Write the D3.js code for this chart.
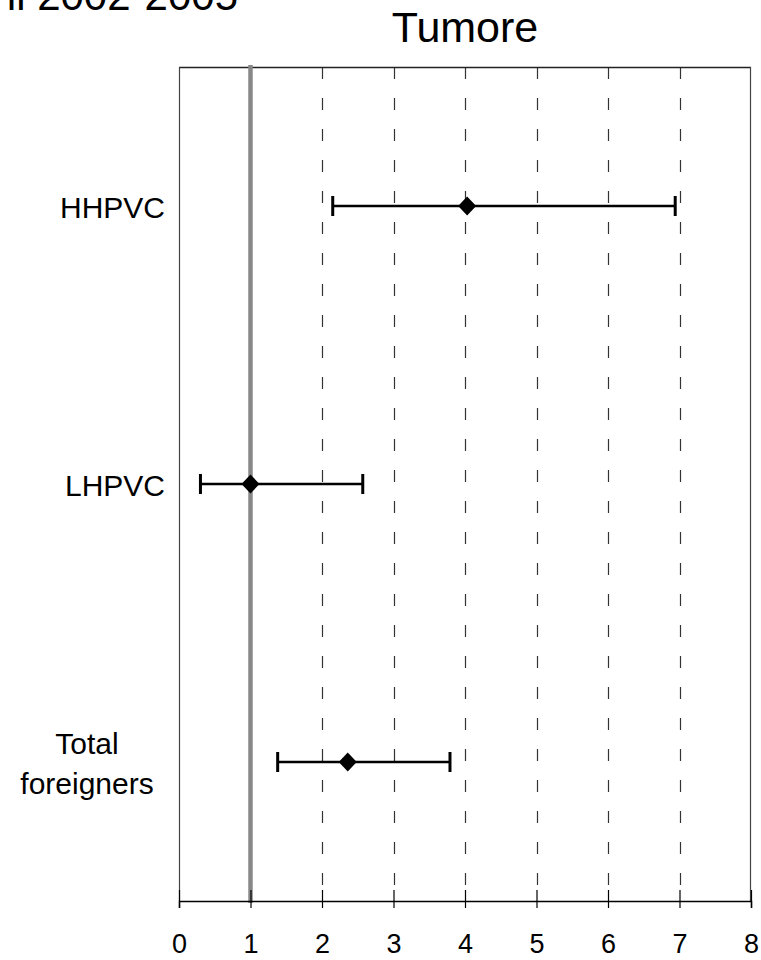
<!DOCTYPE html>
<html>
<head>
<meta charset="utf-8">
<script src="https://cdn.jsdelivr.net/npm/d3@7"></script>
<style>
  html, body { margin: 0; padding: 0; background: #fff; overflow: hidden; }
  svg { display: block; font-family: "Liberation Sans", Arial, sans-serif; }
</style>
</head>
<body>
<svg id="chart" width="761" height="960"></svg>
<script>
// ---- data ----
const categories = ["HHPVC", "LHPVC", "Total foreigners"];
const categoryLines = [["HHPVC"], ["LHPVC"], ["Total", "foreigners"]];
const estimates = [4.03, 1.0, 2.36];
const lowerCI = [2.15, 0.30, 1.38];
const upperCI = [6.94, 2.57, 3.79];
const xTicks = [0, 1, 2, 3, 4, 5, 6, 7, 8];
const referenceValue = 1;
const titleText = "Tumore";
const headerText = "Anni 2002-2005";

// ---- layout ----
const plotLeft = 179, plotRight = 751, plotTop = 67, plotBottom = 901;
const svg = d3.select("#chart");

const x = d3.scaleLinear().domain([0, 8]).range([plotLeft, plotRight]);
const y = d3.scaleBand().domain(categories).range([plotTop, plotBottom]).padding(0);

// cut-off header text at top-left
svg.append("text")
  .attr("x", 238).attr("y", 10)
  .attr("text-anchor", "end")
  .attr("font-size", 42)
  .attr("fill", "#000")
  .text(headerText);

// title
svg.append("text")
  .attr("x", (plotLeft + plotRight) / 2).attr("y", 42)
  .attr("text-anchor", "middle")
  .attr("font-size", 43)
  .attr("fill", "#000")
  .text(titleText);

// dashed gridlines
svg.append("g").selectAll("line")
  .data(xTicks.filter(d => d > 0 && d < 8 && d !== referenceValue))
  .join("line")
  .attr("x1", d => Math.round(x(d)) + 0.5).attr("x2", d => Math.round(x(d)) + 0.5)
  .attr("y1", plotTop).attr("y2", plotBottom)
  .attr("stroke", "#333")
  .attr("stroke-width", 1.2)
  .attr("stroke-dasharray", "12,19");

// plot frame (top, left, right)
svg.append("line").attr("x1", plotLeft).attr("x2", plotRight).attr("y1", plotTop + 0.5).attr("y2", plotTop + 0.5)
  .attr("stroke", "#222").attr("stroke-width", 1.5);
svg.append("line").attr("x1", plotLeft + 0.5).attr("x2", plotLeft + 0.5).attr("y1", plotTop).attr("y2", plotBottom)
  .attr("stroke", "#444").attr("stroke-width", 1.2);
svg.append("line").attr("x1", plotRight - 0.5).attr("x2", plotRight - 0.5).attr("y1", plotTop).attr("y2", plotBottom)
  .attr("stroke", "#444").attr("stroke-width", 1.2);

// reference line at 1
svg.append("line")
  .attr("x1", x(referenceValue)).attr("x2", x(referenceValue))
  .attr("y1", plotTop - 2).attr("y2", plotBottom + 2)
  .attr("stroke", "#888")
  .attr("stroke-width", 4.5);

// bottom axis
const axis = d3.axisBottom(x).tickValues(xTicks).tickFormat(d3.format("d")).tickSize(7).tickPadding(26);
const gAxis = svg.append("g").attr("transform", `translate(0,${plotBottom})`).call(axis);
gAxis.select(".domain").attr("stroke", "#000").attr("stroke-width", 1.5);
gAxis.selectAll(".tick line").attr("stroke", "#000").attr("stroke-width", 1.2).attr("y1", -11);
gAxis.selectAll(".tick text").attr("font-size", 27).attr("fill", "#000")
  .attr("font-family", "'Liberation Sans', Arial, sans-serif");

// category labels
const labelG = svg.append("g");
categories.forEach((c, i) => {
  const lines = categoryLines[i];
  const cy = y(c) + y.bandwidth() / 2;
  const lh = 40;
  const t = labelG.append("text")
    .attr("font-size", 30)
    .attr("fill", "#000")
    .attr("text-anchor", lines.length > 1 ? "middle" : "end");
  lines.forEach((ln, j) => {
    t.append("tspan")
      .attr("x", lines.length > 1 ? 87 : 165)
      .attr("y", cy + 11.5 + (j - (lines.length - 1) / 2) * lh)
      .text(ln);
  });
});

// error bars
const eb = svg.append("g");
categories.forEach((c, i) => {
  const cy = y(c) + y.bandwidth() / 2;
  eb.append("line")
    .attr("x1", x(lowerCI[i])).attr("x2", x(upperCI[i]))
    .attr("y1", cy).attr("y2", cy)
    .attr("stroke", "#000").attr("stroke-width", 2.5);
  [lowerCI[i], upperCI[i]].forEach(v => {
    eb.append("line")
      .attr("x1", x(v)).attr("x2", x(v))
      .attr("y1", cy - 10).attr("y2", cy + 10)
      .attr("stroke", "#000").attr("stroke-width", 3);
  });
  const px = x(estimates[i]);
  eb.append("path")
    .attr("d", `M${px},${cy - 9.5}L${px + 9},${cy}L${px},${cy + 9.5}L${px - 9},${cy}Z`)
    .attr("fill", "#000");
});
</script>
</body>
</html>
